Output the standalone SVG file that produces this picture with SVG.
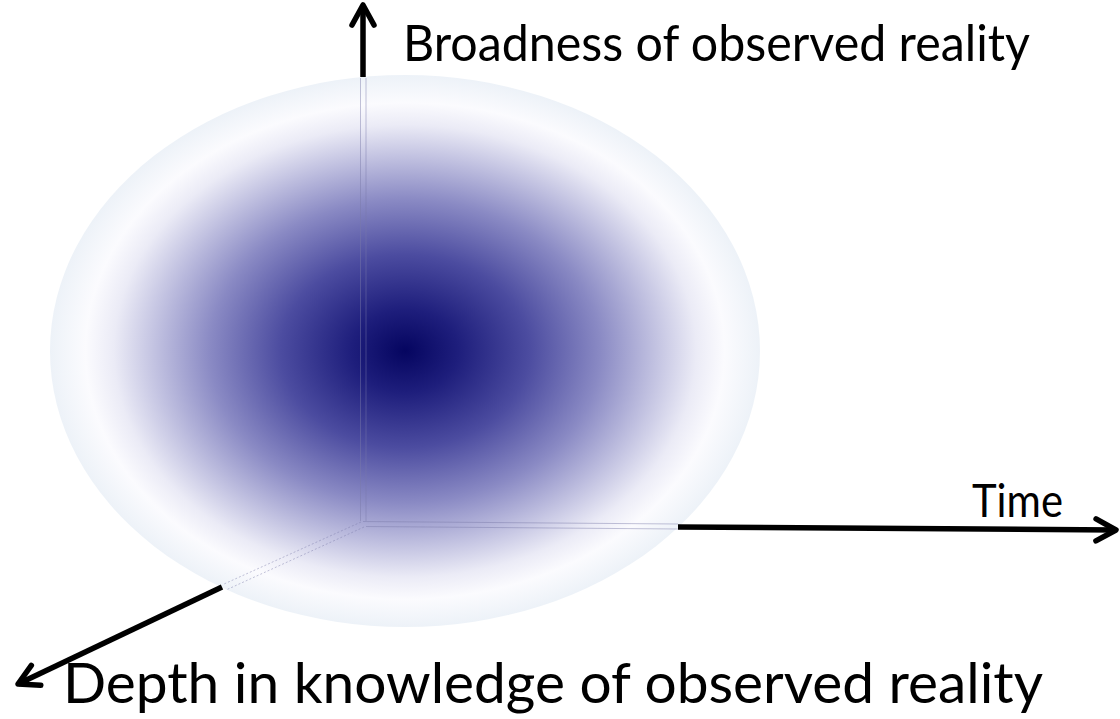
<svg xmlns="http://www.w3.org/2000/svg" width="1120" height="719" viewBox="0 0 1120 719">
  <defs>
    <radialGradient id="sphereGrad" cx="405" cy="351" r="355" gradientUnits="userSpaceOnUse" gradientTransform="translate(405 351) scale(1 0.777) translate(-405 -351)">
      <stop offset="0" stop-color="#050560"/>
      <stop offset="0.15" stop-color="#1e1e7c"/>
      <stop offset="0.35" stop-color="#4c4ca0"/>
      <stop offset="0.55" stop-color="#8a8ac4"/>
      <stop offset="0.7" stop-color="#c0c0e0"/>
      <stop offset="0.82" stop-color="#ebebf6"/>
      <stop offset="0.9" stop-color="#fbfbfe"/>
      <stop offset="1" stop-color="#edf2f8"/>
    </radialGradient>
    <marker id="chev" markerUnits="userSpaceOnUse" markerWidth="40" markerHeight="40" viewBox="-30 -20 40 40" refX="0" refY="0" orient="auto" overflow="visible">
      <path d="M -20 -11 L 0 0 L -20 11" fill="none" stroke="#000" stroke-width="5.5" stroke-linecap="round" stroke-linejoin="round"/>
    </marker>
    <style>
      .axis { stroke: #000; stroke-width: 5.5; fill: none; marker-end: url(#chev); }
      .hidden { stroke: #7a7aa8; stroke-width: 1; fill: none; opacity: 0.45; }
      .label { font-family: "Lato", "Open Sans", "Liberation Sans", sans-serif; fill: #000; }
    </style>
  </defs>

  <g id="sphere">
    <ellipse cx="405" cy="351" rx="355" ry="276" fill="url(#sphereGrad)"/>
  </g>

  <g id="connectors">
    <line id="axis-broadness" class="axis" x1="363" y1="77" x2="363" y2="5"/>
    <line id="axis-time" class="axis" x1="678" y1="527" x2="1116" y2="530"/>
    <line id="axis-depth" class="axis" x1="222" y1="587" x2="18" y2="684"/>
    <line class="hidden" x1="360.5" y1="78" x2="360.5" y2="521"/>
    <line class="hidden" x1="366" y1="78" x2="366" y2="521"/>
    <line class="hidden" x1="363" y1="521.5" x2="678" y2="524"/>
    <line class="hidden" x1="366" y1="526.5" x2="678" y2="529"/>
    <line class="hidden" x1="361" y1="522" x2="224" y2="584" stroke-dasharray="2 2"/>
    <line class="hidden" x1="364" y1="527" x2="226" y2="590" stroke-dasharray="2 2"/>
  </g>

  <g id="labels">
    <text class="label" x="403" y="61" font-size="50" textLength="627" lengthAdjust="spacingAndGlyphs">Broadness of observed reality</text>
    <text class="label" x="972" y="517" font-size="46" textLength="91" lengthAdjust="spacingAndGlyphs">Time</text>
    <text class="label" x="63" y="703" font-size="56" textLength="980" lengthAdjust="spacingAndGlyphs">Depth in knowledge of observed reality</text>
  </g>
</svg>
